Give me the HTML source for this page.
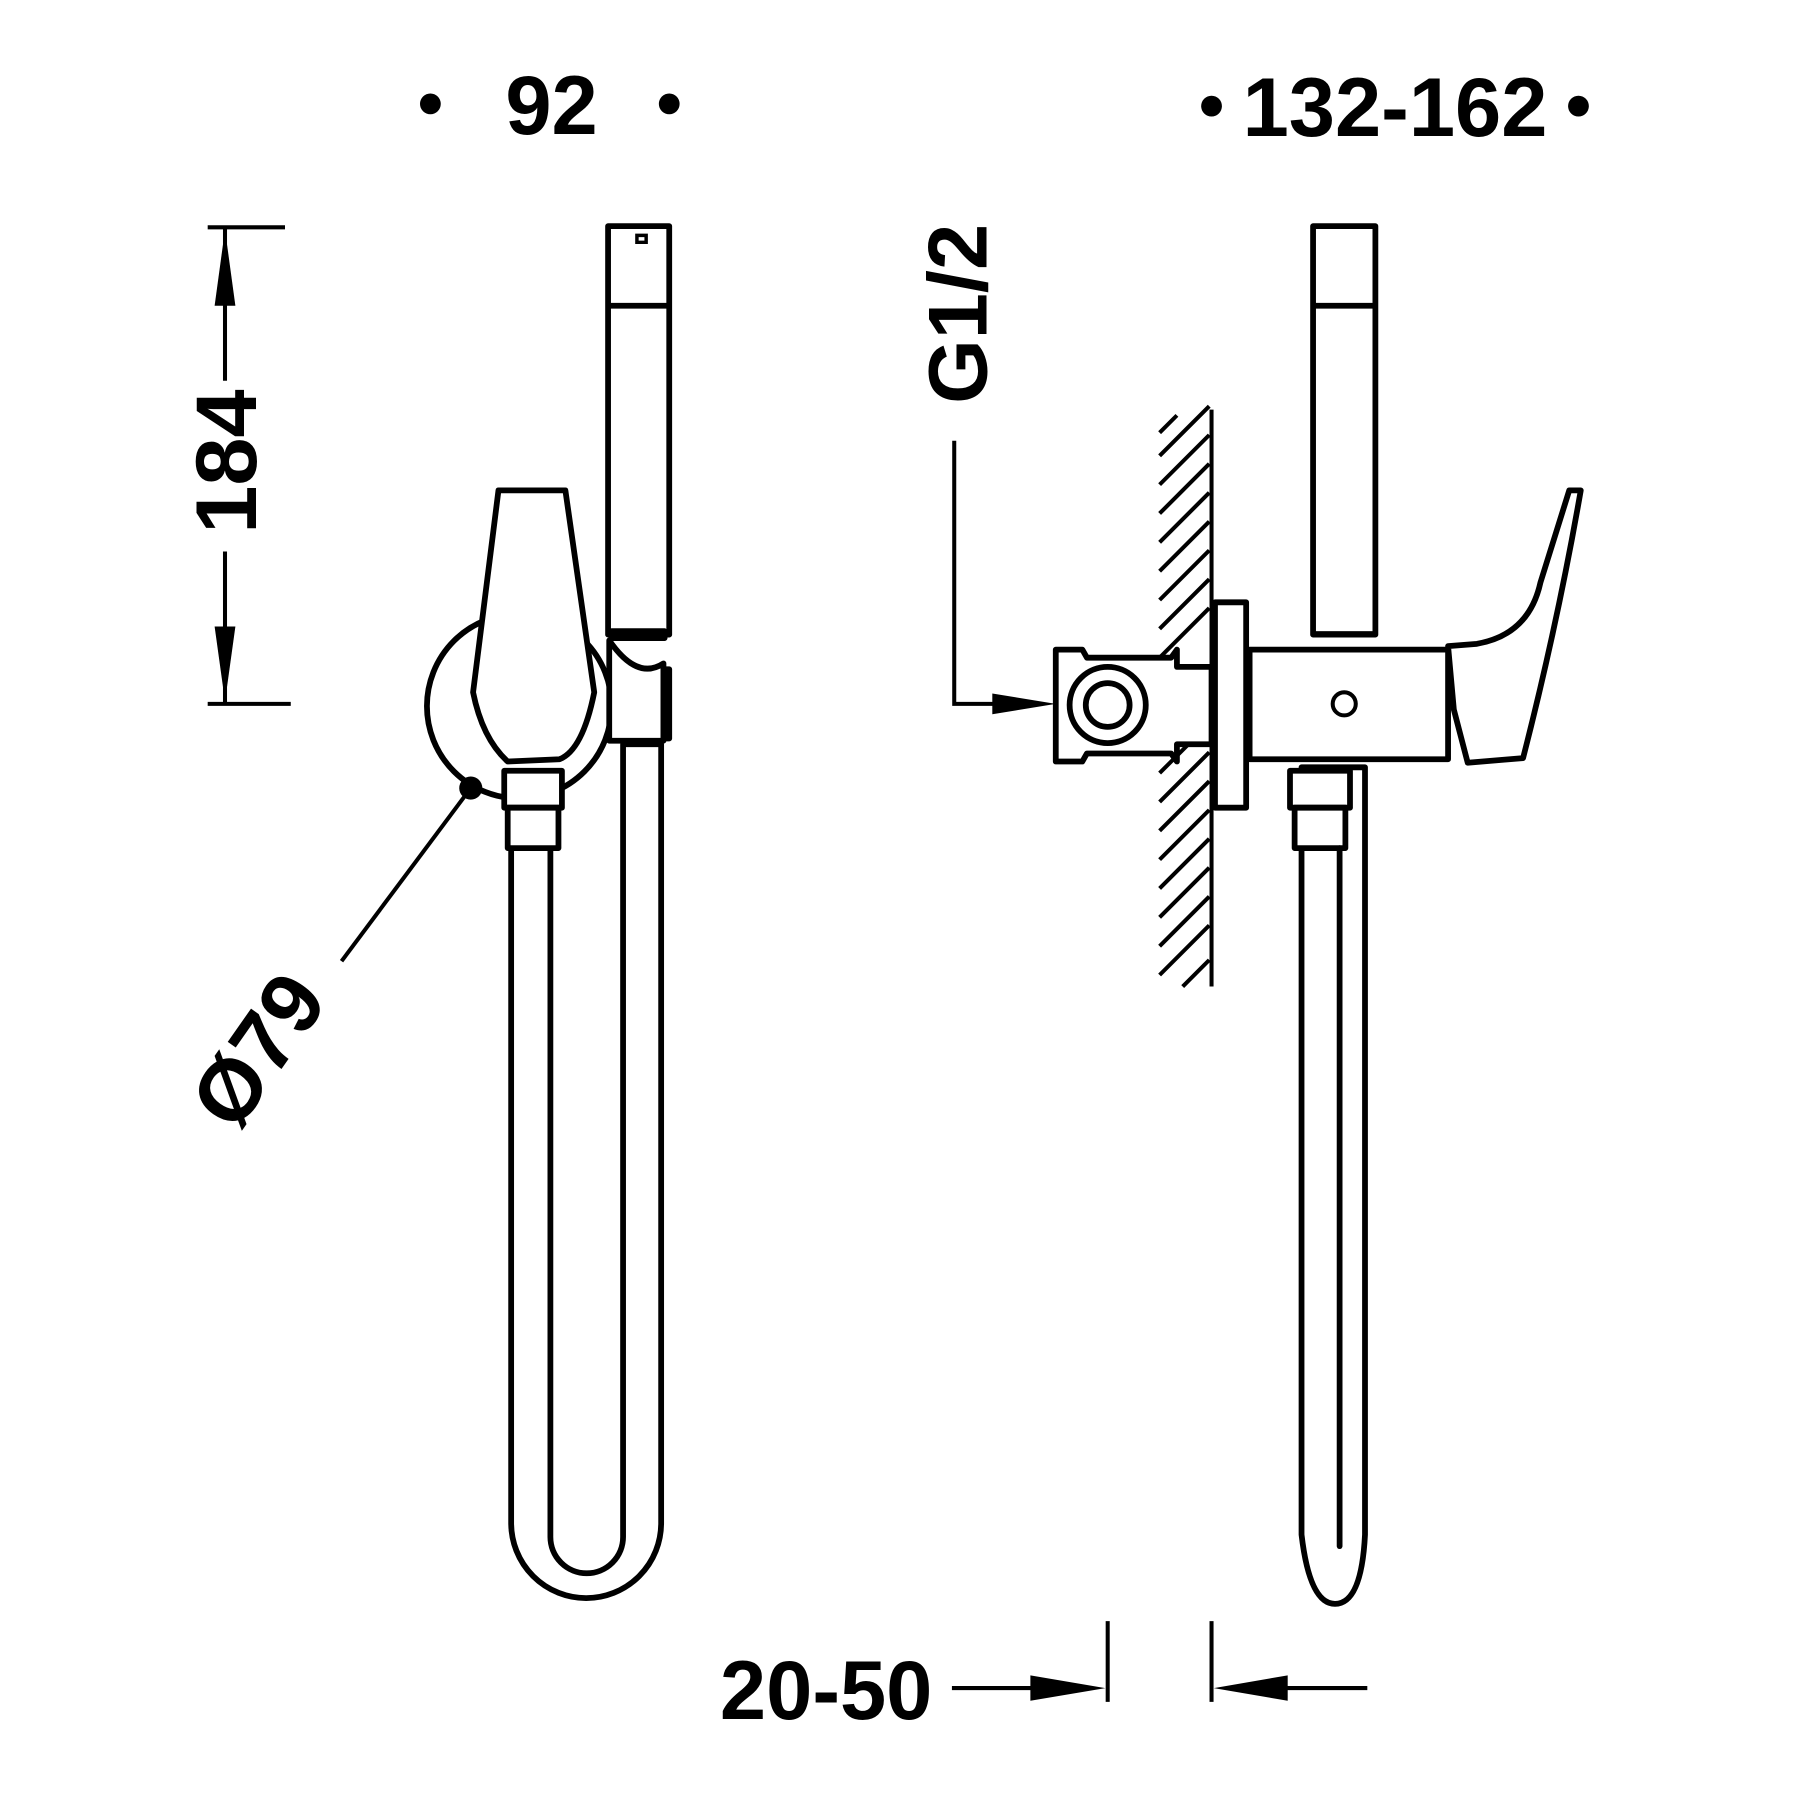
<!DOCTYPE html>
<html><head><meta charset="utf-8"><style>
html,body{margin:0;padding:0;background:#fff;}
svg{display:block}
text{font-family:"Liberation Sans",sans-serif;font-weight:bold;fill:#000}
</style></head><body>
<svg width="1800" height="1800" viewBox="0 0 1560 1560" xmlns="http://www.w3.org/2000/svg">
<circle cx="373" cy="90" r="9"/><circle cx="580" cy="90" r="9"/>
<text x="478" y="116" font-size="72" text-anchor="middle">92</text>
<circle cx="1050" cy="92" r="9"/><circle cx="1368" cy="92" r="9"/>
<text x="1209" y="118" font-size="72" text-anchor="middle">132-162</text>

<g stroke="#000" stroke-width="3.5" fill="none">
<line x1="180" y1="197" x2="247" y2="197"/>
<line x1="180" y1="610" x2="252" y2="610"/>
<line x1="195" y1="197" x2="195" y2="330"/>
<line x1="195" y1="478" x2="195" y2="610"/>
</g>
<polygon points="195,199 186,265 204,265"/>
<polygon points="195,608 186,543 204,543"/>
<text transform="translate(222,400) rotate(-90)" font-size="75" text-anchor="middle">184</text>

<g fill="#fff" stroke="#000" stroke-width="5" stroke-linejoin="round">
<circle cx="450" cy="612" r="80"/>
<path d="M528,555 Q552,590 575,575 L575,642 L528,642 Z"/>
<rect x="527" y="196" width="53" height="354"/>
<line x1="527" y1="265" x2="580" y2="265"/>
<rect x="530" y="547" width="46" height="6" fill="#000"/>
<rect x="575" y="580" width="5" height="60"/>
<path d="M443,735 L443,1320 A65,65 0 0 0 573,1320 L573,645 L540,645 L540,1332 A31,31 0 0 1 477,1332 L477,735 Z"/>
<path d="M432,425 L490,425 L515,600 Q505,650 485,658 L440,660 Q418,640 410,600 Z"/>
<rect x="437" y="668" width="50" height="32"/>
<rect x="440" y="700" width="44" height="35"/>
</g>
<path d="M552,204 h8 v6 h-8 z" fill="none" stroke="#000" stroke-width="3"/>
<line x1="408" y1="683" x2="296" y2="833" stroke="#000" stroke-width="3.5"/>
<circle cx="408" cy="683" r="10"/>
<text transform="translate(245,925) rotate(-55)" font-size="75" text-anchor="middle">Ø79</text>

<text transform="translate(855,272) rotate(-90)" font-size="72" text-anchor="middle">G1/2</text>
<polyline points="827,382 827,610 865,610" fill="none" stroke="#000" stroke-width="3.5"/>
<polygon points="915,610 860,601 860,619"/>

<g stroke="#000" stroke-width="3.5">
<line x1="1050" y1="355" x2="1050" y2="855"/>
<line x1="1005" y1="375" x2="1020" y2="360"/>
<line x1="1005" y1="395" x2="1048" y2="352"/>
<line x1="1005" y1="420" x2="1048" y2="377"/>
<line x1="1005" y1="445" x2="1048" y2="402"/>
<line x1="1005" y1="470" x2="1048" y2="427"/>
<line x1="1005" y1="495" x2="1048" y2="452"/>
<line x1="1005" y1="520" x2="1048" y2="477"/>
<line x1="1005" y1="545" x2="1048" y2="502"/>
<line x1="1005" y1="570" x2="1048" y2="527"/>
<line x1="1005" y1="670" x2="1048" y2="627"/>
<line x1="1005" y1="695" x2="1048" y2="652"/>
<line x1="1005" y1="720" x2="1048" y2="677"/>
<line x1="1005" y1="745" x2="1048" y2="702"/>
<line x1="1005" y1="770" x2="1048" y2="727"/>
<line x1="1005" y1="795" x2="1048" y2="752"/>
<line x1="1005" y1="820" x2="1048" y2="777"/>
<line x1="1005" y1="845" x2="1048" y2="802"/>
<line x1="1025" y1="855" x2="1048" y2="832"/>
</g>

<g fill="#fff" stroke="#000" stroke-width="5" stroke-linejoin="round">
<path d="M915,563 L938,563 L942,570 L1015,570 L1020,563 L1020,578 L1050,578 L1050,645 L1020,645 L1020,660 L1015,653 L942,653 L938,660 L915,660 Z"/>
<circle cx="960" cy="611" r="33"/>
<circle cx="960" cy="611" r="19"/>
<rect x="1053" y="522" width="27" height="178"/>
<rect x="1083" y="563" width="172" height="95"/>
<path d="M1255,560 L1280,558 Q1325,550 1335,505 L1360,425 L1370,425 Q1350,540 1320,657 L1272,661 L1260,615 Z"/>
<rect x="1138" y="196" width="54" height="354"/>
<path d="M1128,735 L1128,1330 Q1135,1390 1157,1390 Q1180,1390 1183,1330 L1183,665 L1128,665 Z"/>
<rect x="1118" y="668" width="52" height="32"/>
<rect x="1122" y="700" width="44" height="35"/>
</g>
<line x1="1138" y1="265" x2="1192" y2="265" stroke="#000" stroke-width="5"/>
<rect x="1138" y="547" width="54" height="5"/>
<line x1="1161" y1="735" x2="1161" y2="1340" stroke="#000" stroke-width="5" stroke-linecap="round"/>
<circle cx="1165" cy="610" r="10" fill="none" stroke="#000" stroke-width="3.5"/>

<g stroke="#000" stroke-width="3.5">
<line x1="960" y1="1405" x2="960" y2="1475"/>
<line x1="1050" y1="1405" x2="1050" y2="1475"/>
<line x1="825" y1="1463" x2="900" y2="1463"/>
<line x1="1110" y1="1463" x2="1185" y2="1463"/>
</g>
<polygon points="958,1463 893,1452 893,1474"/>
<polygon points="1052,1463 1116,1452 1116,1474"/>
<text x="716" y="1490" font-size="72" text-anchor="middle">20-50</text>
</svg>
</body></html>
